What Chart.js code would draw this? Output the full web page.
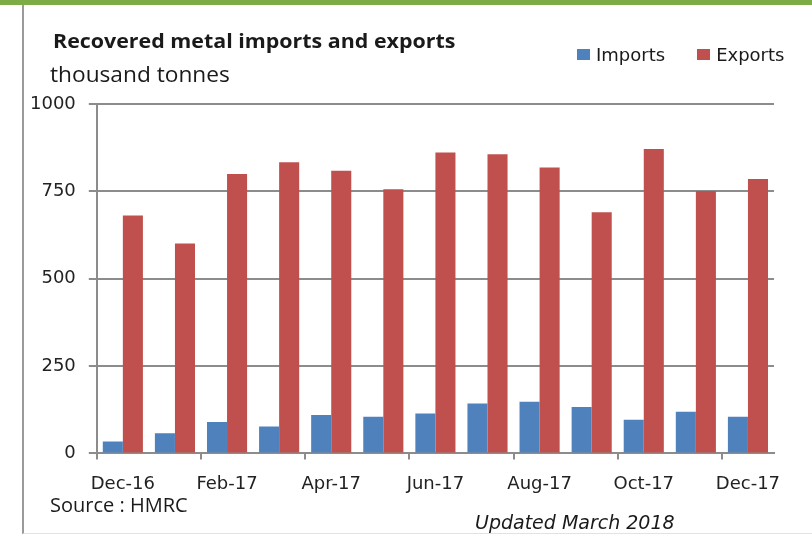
<!DOCTYPE html>
<html>
<head>
<meta charset="utf-8">
<script src="https://cdn.jsdelivr.net/npm/chart.js@4.4.0/dist/chart.umd.min.js"></script>
<style>
  body { margin: 0; background: #fff; overflow: hidden; }
  #wrap { position: relative; width: 812px; height: 537px; }
  #topbar { position: absolute; left: 0; top: 0; width: 812px; height: 5px; background: #7dab45; }
  #frame { position: absolute; left: 22px; top: 5px; width: 800px; height: 528px;
           border-left: 2px solid #9a9a9a; border-bottom: 1px solid #e2e2e2; }
  canvas { position: absolute; left: 0; top: 0; }
  .txt { position: absolute; color: #1a1a1a; white-space: nowrap; line-height: 1; }
  #title { left: 53px; top: 27px; font: bold 20px "Open Sans", sans-serif;
           transform: scaleX(1.07); transform-origin: left top; }
  #unit { left: 50px; top: 58px; font: 22.7px "Open Sans", sans-serif; }
  #source { left: 50px; top: 491px; font: 20px "Open Sans", sans-serif; }
  #updated { left: 475px; top: 511px; font: italic 19px "DejaVu Sans", sans-serif; }
  #legend { position: absolute; left: 577px; top: 44px; display: flex; align-items: center;
            font: 18px "DejaVu Sans", sans-serif; color: #1a1a1a; }
  #legend .item { display: flex; align-items: center; margin-right: 32px; }
  #legend .box { width: 13px; height: 11px; margin-right: 6px; }
</style>
</head>
<body>
<div id="wrap">
  <div id="topbar"></div>
  <div id="frame"></div>
  <canvas id="myChart" width="812" height="537"></canvas>
  <div class="txt" id="title">Recovered metal imports and exports</div>
  <div class="txt" id="unit">thousand tonnes</div>
  <div class="txt" id="source">Source : HMRC</div>
  <div class="txt" id="updated">Updated March 2018</div>
  <div id="legend"></div>
</div>
<script>
// Monthly figures, thousand tonnes
const months = ['Dec-16', 'Jan-17', 'Feb-17', 'Mar-17', 'Apr-17', 'May-17', 'Jun-17',
                'Jul-17', 'Aug-17', 'Sep-17', 'Oct-17', 'Nov-17', 'Dec-17'];
const imports = [34, 58, 90, 77, 110, 105, 114, 143, 148, 133, 96, 119, 105];
const exports = [681, 601, 800, 833, 809, 756, 861, 856, 818, 690, 871, 751, 785];
const yMax = 1000;
const yStep = 250;

const gridGray = '#8c8c8c';
const tickFont = { family: 'DejaVu Sans', size: 18 };

const ctx = document.getElementById('myChart').getContext('2d');
const myChart = new Chart(ctx, {
    type: 'bar',
    data: {
        labels: months,
        datasets: [
            { label: 'Imports', data: imports, backgroundColor: '#4f81bd' },
            { label: 'Exports', data: exports, backgroundColor: '#c0504d' }
        ]
    },
    options: {
        responsive: false,
        animation: false,
        categoryPercentage: 0.77,
        barPercentage: 1.0,
        layout: { padding: { top: 104, left: 17, right: 38, bottom: 28 } },
        plugins: {
            legend: { display: false },
            tooltip: { enabled: false }
        },
        scales: {
            x: {
                grid: {
                    offset: true,
                    drawOnChartArea: false,
                    tickLength: 6,
                    lineWidth: 2,
                    // tick mark only every second month, like the labels
                    color: (c) => (c.index % 2 === 0 ? gridGray : 'rgba(0,0,0,0)')
                },
                border: { color: gridGray, width: 2 },
                ticks: {
                    autoSkip: false,
                    maxRotation: 0,
                    padding: 14,
                    color: '#222',
                    font: tickFont,
                    callback: (val, i) => (i % 2 === 0 ? months[i] : '')
                }
            },
            y: {
                min: 0,
                max: yMax,
                grid: { color: gridGray, lineWidth: 2, tickLength: 8 },
                border: { color: gridGray, width: 2 },
                ticks: {
                    stepSize: yStep,
                    padding: 13,
                    color: '#222',
                    font: tickFont,
                    callback: (val) => String(val)
                }
            }
        }
    }
});

// Legend built from the datasets
const legend = document.getElementById('legend');
myChart.data.datasets.forEach(function(ds) {
    const item = document.createElement('div');
    item.className = 'item';
    const box = document.createElement('span');
    box.className = 'box';
    box.style.background = ds.backgroundColor;
    item.appendChild(box);
    item.appendChild(document.createTextNode(ds.label));
    legend.appendChild(item);
});
</script>
</body>
</html>
